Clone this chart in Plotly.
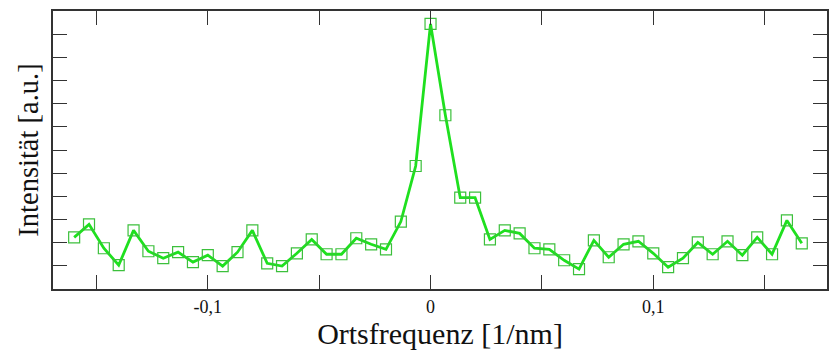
import plotly.graph_objects as go

# x = k/150 spacing, k from -24 to 25
freq = [k / 150 for k in range(-24, 26)]
intensity = [
    2.23, 2.79, 1.76, 1.03, 2.53, 1.63, 1.33, 1.59, 1.16, 1.46,
    0.99, 1.59, 2.53, 1.11, 0.99, 1.54, 2.14, 1.50, 1.50, 2.19,
    1.93, 1.71, 2.91, 5.31, 11.44, 7.50, 3.94, 3.94, 2.14, 2.53,
    2.40, 1.76, 1.71, 1.24, 0.86, 2.10, 1.37, 1.93, 2.06, 1.54,
    0.94, 1.33, 2.01, 1.50, 2.06, 1.46, 2.23, 1.50, 2.96, 1.97,
]
x_tickvals = [-0.15, -0.1, -0.05, 0, 0.05, 0.1, 0.15]
x_ticktext = ["", "-0,1", "", "0", "", "0,1", ""]
y_tickvals = list(range(1, 12))

SERIF = "Liberation Serif"

fig = go.Figure()
fig.add_trace(go.Scatter(
    x=freq, y=intensity, mode="lines+markers",
    line=dict(color="#1fe01f", width=2.8),
    marker=dict(symbol="square-open", size=11, color="#3cc03c",
                line=dict(width=1.2, color="#3cc03c")),
    showlegend=False,
))

axis_common = dict(
    showline=True, linecolor="#333333", linewidth=1.5, mirror="allticks",
    ticks="inside", ticklen=14, tickwidth=1.3, tickcolor="#333333",
    showgrid=False, zeroline=False,
)
fig.update_layout(
    width=838, height=353,
    margin=dict(l=53, r=10, t=9, b=64),
    paper_bgcolor="white", plot_bgcolor="white",
    font=dict(family=SERIF, color="#111111"),
    xaxis=dict(range=[-0.1695, 0.178], tickvals=x_tickvals, ticktext=x_ticktext,
               tickfont=dict(family=SERIF, size=18), ticklabelstandoff=1,
               title=dict(text="Ortsfrequenz [1/nm]", font=dict(family=SERIF, size=30), standoff=2),
               **axis_common),
    yaxis=dict(range=[0, 12], tickvals=y_tickvals, showticklabels=False,
               title=dict(text="Intensität [a.u.]", font=dict(family=SERIF, size=28.5), standoff=4),
               **axis_common),
)
fig.write_html("out.html")
